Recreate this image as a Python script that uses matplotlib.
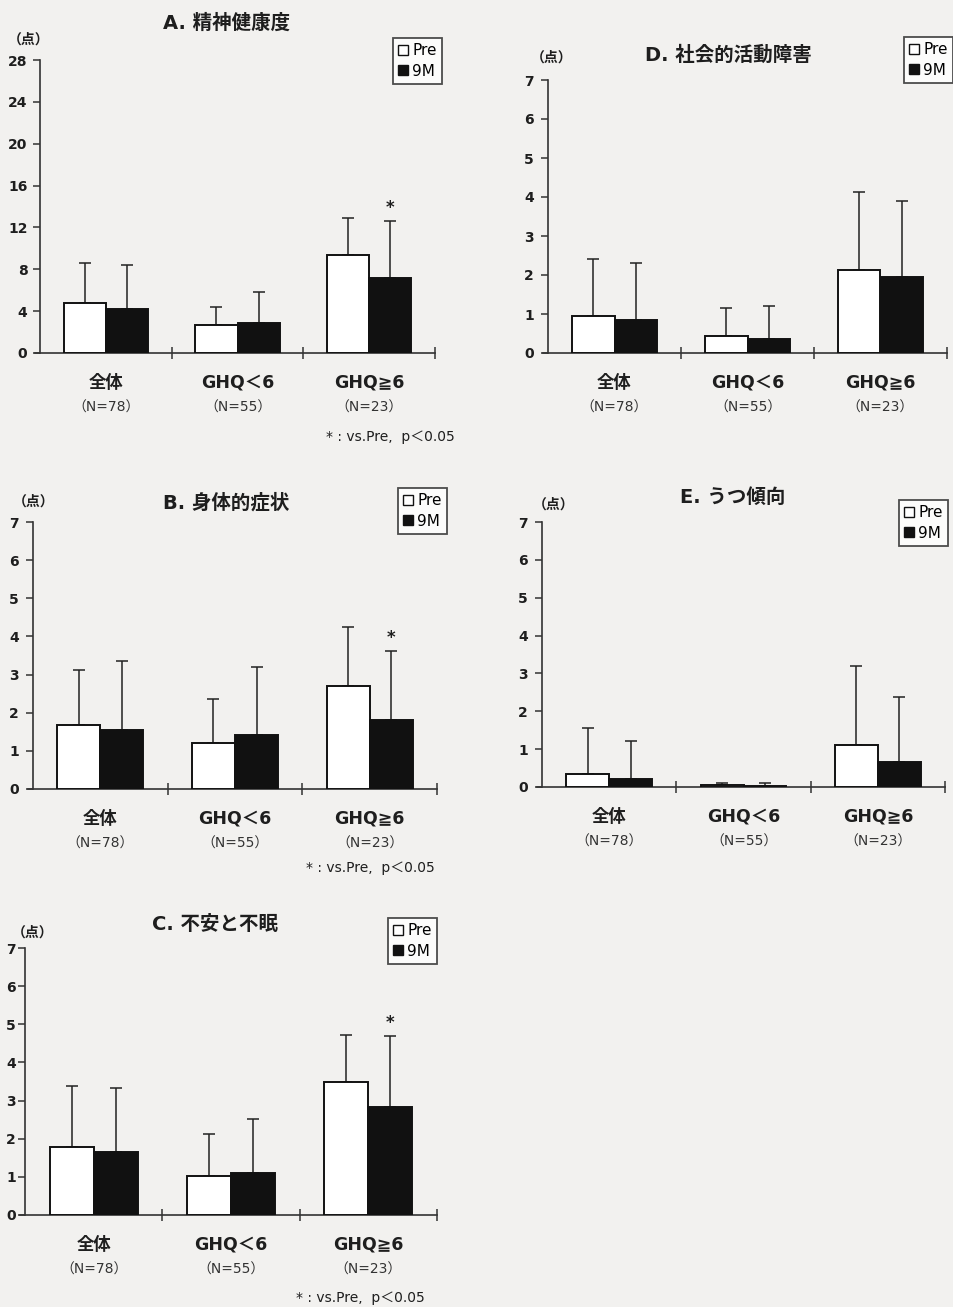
import matplotlib
matplotlib.use("Agg")
import matplotlib.pyplot as plt
from matplotlib.patches import Patch
import numpy as np

plt.rcParams['font.family'] = ['DejaVu Sans', 'Noto Sans CJK JP']

# ---------------- data ----------------
categories = ["全体", "GHQ＜6", "GHQ≧6"]
n_labels = ["（N=78）", "（N=55）", "（N=23）"]
series_names = ["Pre", "9M"]

# A. 精神健康度
a_pre = [4.8, 2.7, 9.4]
a_pre_sd = [3.8, 1.7, 3.5]
a_9m = [4.2, 2.9, 7.2]
a_9m_sd = [4.2, 2.9, 5.4]
a_sig = [False, False, True]

# B. 身体的症状
b_pre = [1.67, 1.20, 2.69]
b_pre_sd = [1.45, 1.17, 1.56]
b_9m = [1.55, 1.42, 1.80]
b_9m_sd = [1.81, 1.77, 1.83]
b_sig = [False, False, True]

# C. 不安と不眠
c_pre = [1.78, 1.02, 3.48]
c_pre_sd = [1.61, 1.11, 1.24]
c_9m = [1.64, 1.09, 2.82]
c_9m_sd = [1.70, 1.43, 1.86]
c_sig = [False, False, True]

# D. 社会的活動障害
d_pre = [0.94, 0.44, 2.12]
d_pre_sd = [1.47, 0.71, 2.02]
d_9m = [0.85, 0.36, 1.95]
d_9m_sd = [1.45, 0.85, 1.94]
d_sig = [False, False, False]

# E. うつ傾向
e_pre = [0.35, 0.04, 1.10]
e_pre_sd = [1.21, 0.07, 2.09]
e_9m = [0.20, 0.03, 0.66]
e_9m_sd = [1.01, 0.08, 1.73]
e_sig = [False, False, False]

W, H = 954, 1307
BG = '#f2f1ef'
INK = '#1e1e1e'
fig = plt.figure(figsize=(W / 100, H / 100), dpi=100, facecolor=BG)


def fx(x):
    return x / W


def fy(y):
    return 1 - y / H


def panel(box, title, title_xy, unit_xy, legend_box, ymax, ystep,
          pre, pre_sd, m9, m9_sd, sig, foot_y=None, foot_x=None, tpad=4):
    l, t, r, b = box
    ext = 0.04  # x-axis extends slightly left of the y-axis
    catw = (r - l) / 3.0
    l2 = l - ext * catw
    ax = fig.add_axes([fx(l2), fy(b), fx(r - l2), (b - t) / H])
    ax.set_facecolor('none')
    x = np.arange(len(categories)) + 0.5
    w = 0.32
    ax.bar(x - w / 2, pre, w, color='white', edgecolor='#111111', linewidth=1.4, zorder=3)
    ax.bar(x + w / 2, m9, w, color='#111111', edgecolor='#111111', linewidth=1.4, zorder=3)
    ax.errorbar(x - w / 2, pre, yerr=[np.zeros(len(pre)), pre_sd], fmt='none',
                ecolor='#222222', elinewidth=1.1, capsize=4, capthick=1.1, zorder=2)
    ax.errorbar(x + w / 2, m9, yerr=[np.zeros(len(m9)), m9_sd], fmt='none',
                ecolor='#222222', elinewidth=1.1, capsize=4, capthick=1.1, zorder=2)
    for i, s in enumerate(sig):
        if s:
            ax.annotate('*', xy=(x[i] + w / 2, m9[i] + m9_sd[i]), xytext=(0, 4),
                        textcoords='offset pixels', ha='center', va='bottom',
                        fontsize=12, fontweight='bold', color=INK)
    ax.set_xlim(-ext, 3)
    ax.set_ylim(0, ymax)
    ax.spines['left'].set_position(('data', 0))
    ax.set_yticks(np.arange(0, ymax + 0.01, ystep))
    ax.set_xticks([1, 2, 3])
    ax.set_xticklabels([])
    ax.tick_params(axis='x', direction='inout', length=8, width=1.1, color='#333333')
    ax.tick_params(axis='y', direction='out', length=5, width=1.1, color='#333333',
                   labelsize=10, labelcolor=INK, pad=tpad)
    for lab in ax.get_yticklabels():
        lab.set_fontweight('bold')
    for sp in ['top', 'right']:
        ax.spines[sp].set_visible(False)
    for sp in ['left', 'bottom']:
        ax.spines[sp].set_linewidth(1.2)
        ax.spines[sp].set_color('#333333')
    for i in range(len(categories)):
        ax.annotate(categories[i], xy=(x[i], 0), xytext=(0, -30), textcoords='offset pixels',
                    ha='center', va='center', fontsize=12.5, fontweight='bold', color=INK)
        ax.annotate(n_labels[i], xy=(x[i], 0), xytext=(0, -55), textcoords='offset pixels',
                    ha='center', va='center', fontsize=10, color='#333333')
    if foot_y is not None:
        fig.text(fx(foot_x), fy(foot_y), '* : vs.Pre,  p＜0.05', ha='right', va='center',
                 fontsize=10, color=INK)
    fig.text(fx(title_xy[0]), fy(title_xy[1]), title, ha='center', va='center',
             fontsize=14, fontweight='bold', color=INK)
    fig.text(fx(unit_xy[0]), fy(unit_xy[1]), '（点）', ha='center', va='center',
             fontsize=10, fontweight='bold', color=INK)
    handles = [Patch(facecolor='white', edgecolor='#111111', linewidth=1.0),
               Patch(facecolor='#111111', edgecolor='#111111', linewidth=1.0)]
    lx0, ly0, lx1, ly1 = legend_box
    leg = ax.legend(handles, series_names, loc='upper right',
                    bbox_to_anchor=(fx(lx1), fy(ly0)), bbox_transform=fig.transFigure,
                    fancybox=False, frameon=True, edgecolor='#222222', facecolor='white',
                    fontsize=11, handlelength=0.6, handleheight=0.6, handletextpad=0.3,
                    borderpad=0.35, labelspacing=0.35, borderaxespad=0)
    leg.get_frame().set_linewidth(1.3)
    return ax


panel((40, 60, 435, 353), "A. 精神健康度", (227, 23), (29, 40), (386, 38, 442, 87),
      28, 4, a_pre, a_pre_sd, a_9m, a_9m_sd, a_sig, foot_y=437, foot_x=455, tpad=4)
panel((548, 80, 947, 353), "D. 社会的活動障害", (728, 55), (552, 58), (899, 37, 953, 85),
      7, 1, d_pre, d_pre_sd, d_9m, d_9m_sd, d_sig, tpad=5)
panel((33, 522, 437, 789), "B. 身体的症状", (226, 503), (34, 502), (388, 488, 447, 537),
      7, 1, b_pre, b_pre_sd, b_9m, b_9m_sd, b_sig, foot_y=868, foot_x=435, tpad=5)
panel((542, 522, 945, 787), "E. うつ傾向", (733, 497), (554, 505), (895, 500, 948, 548),
      7, 1, e_pre, e_pre_sd, e_9m, e_9m_sd, e_sig, tpad=5)
panel((25, 948, 437, 1215), "C. 不安と不眠", (215, 925), (33, 933), (381, 918, 437, 965),
      7, 1, c_pre, c_pre_sd, c_9m, c_9m_sd, c_sig, foot_y=1298, foot_x=425, tpad=1.5)

fig.savefig('out.png', dpi=100, facecolor=BG)
